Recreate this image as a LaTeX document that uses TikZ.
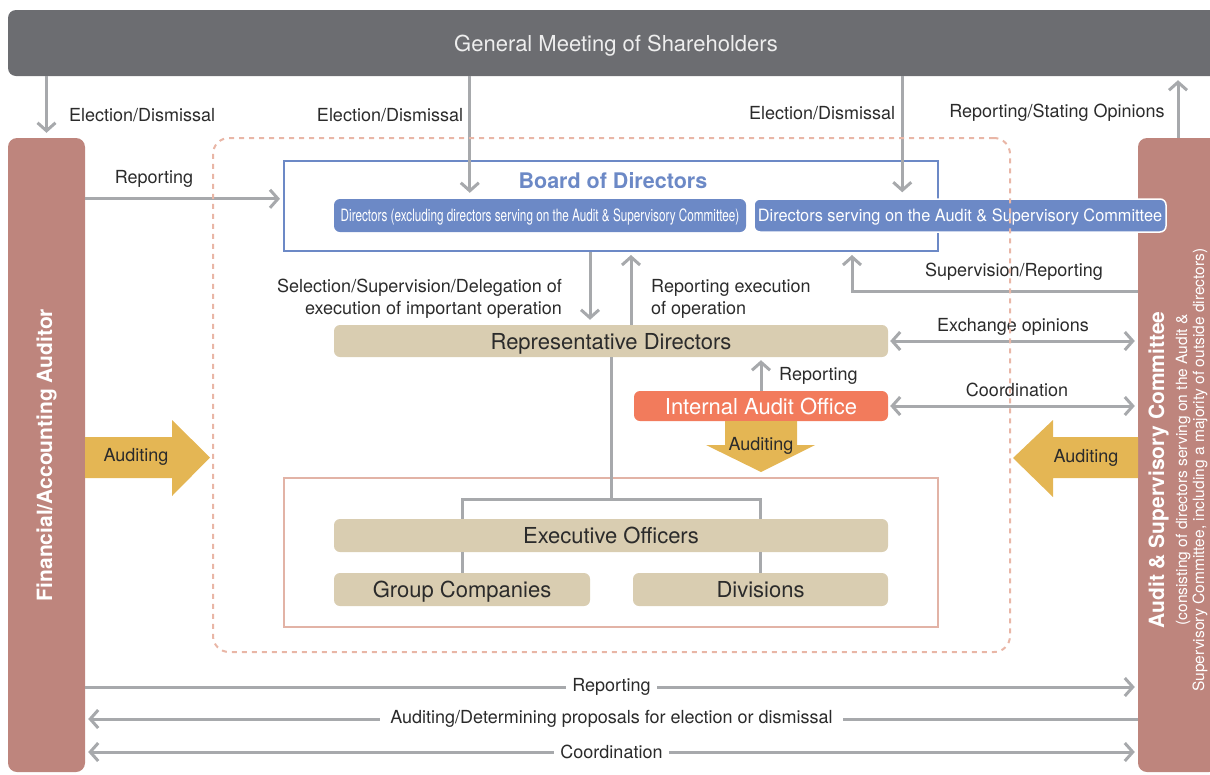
\documentclass[tikz,border=0pt]{standalone}
\usepackage{fontspec}
\setmainfont{TeX Gyre Heros}
\usepackage{graphicx}
\usepackage{tikz}
\usetikzlibrary{arrows.meta}

\begin{document}
\begin{tikzpicture}[x=1pt, y=-1pt,
  arr/.style={draw=lineGray, line width=3pt, -{Straight Barb[length=8pt,width=18pt]}},
  biarr/.style={draw=lineGray, line width=3pt, {Straight Barb[length=8pt,width=18pt]}-{Straight Barb[length=8pt,width=18pt]}},
  link/.style={draw=lineGray, line width=3pt},
  lbl/.style={font=\fontsize{18}{22}\selectfont, text=txtDark, inner sep=1pt},
  pill/.style={rounded corners=6pt, inner sep=0pt, text height=16pt, text depth=0pt, font=\fontsize{22}{25}\selectfont},
  beige/.style={pill, fill=colBeige, text=txtDark},
  blu/.style={pill, fill=colBlue, text=white, text height=12.5pt, minimum width=412, minimum height=33},
  colonna/.style={fill=colCol, rounded corners=9pt, minimum height=634},
  audit/.style={fill=colAud}
]

% Colori
\definecolor{colGM}{HTML}{6C6D71}
\definecolor{gmText}{HTML}{EEEEEE}
\definecolor{colCol}{HTML}{BE857D}
\definecolor{colBlue}{HTML}{6C89C6}
\definecolor{colBeige}{HTML}{D9CDB1}
\definecolor{colCoral}{HTML}{F27B5C}
\definecolor{colAud}{HTML}{E4B654}
\definecolor{lineGray}{HTML}{A7A9AC}
\definecolor{colDash}{HTML}{E9B6A6}
\definecolor{colExec}{HTML}{E2B3A6}
\definecolor{txtDark}{HTML}{2B2B2B}

\useasboundingbox (0,0) rectangle (1210,774);

% Assemblea
\node[pill, fill=colGM, text=gmText, minimum width=1216, minimum height=66, rounded corners=8pt] (gm) at (616,43) {General Meeting of Shareholders};

% Colonne laterali
\node[colonna, minimum width=77] (fin) at (46.5,455) {};
\node[colonna, minimum width=80] (asc) at (1178,455) {};
\node[rotate=90, text=white, font=\fontsize{21}{24}\selectfont\bfseries] (finT) at (fin.center) {Financial/Accounting Auditor};
\node[rotate=90, text=white, align=center, font=\fontsize{15.5}{17}\selectfont] (ascT) at (1178,470)
  {{\fontsize{21}{24}\selectfont\bfseries Audit \& Supervisory Committee}\\[6pt](consisting of directors serving on the Audit \&\\Supervisory Committee, including a majority of outside directors)};

% Consiglio
\node[draw=colBlue, line width=2pt, minimum width=654, minimum height=90] (board) at (611,206) {};
\node[text=colBlue, font=\fontsize{21.5}{25}\selectfont\bfseries] (boardT) at (613,181) {Board of Directors};
\node[blu] (dirEx) at (540,215.5) {\fontsize{17}{20}\selectfont\scalebox{0.69}[1]{Directors (excluding directors serving on the Audit \& Supervisory Committee)}};
\node[blu, draw=white, line width=1.5pt] (dirAsc) at (960,215.5) {\fontsize{17}{20}\selectfont\scalebox{0.96}[1]{Directors serving on the Audit \& Supervisory Committee}};

% Direzione
\node[beige, minimum width=554, minimum height=32] (rep) at (611,341) {Representative Directors};
\node[pill, fill=colCoral, text=white, minimum width=254, minimum height=30] (iao) at (761,406) {Internal Audit Office};
\node[draw=colExec, line width=2pt, minimum width=654, minimum height=149] (execArea) at (611,552.5) {};
\node[beige, minimum width=554, minimum height=33] (exec) at (611,535.5) {Executive Officers};
\node[beige, minimum width=256, minimum height=33] (grp) at (462,589.5) {Group Companies};
\node[beige, minimum width=255, minimum height=33] (div) at (760.5,589.5) {Divisions};

% Frecce di auditing
\path[audit] (85,437) -- (172,437) -- (172,420) -- (210,457.5) -- (172,496) -- (172,478) -- (85,478) -- cycle;
\path[audit] (1138,437) -- (1053,437) -- (1053,420) -- (1013,458) -- (1053,497) -- (1053,478) -- (1138,478) -- cycle;
\path[audit] (725,421) -- (797,421) -- (797,445) -- (815,445) -- (761,472) -- (706,445) -- (725,445) -- cycle;
\node[lbl] (audL) at (136,457) {Auditing};
\node[lbl] (audR) at (1086,458) {Auditing};
\node[lbl] (audI) at (761,446) {Auditing};

% Elezione/revoca
\coordinate (e1) at ([xshift=136pt]dirEx.north west);
\coordinate (e2) at ([xshift=149pt]dirAsc.north west);
\draw[arr, shorten >=5pt] (fin.north |- gm.south) -- (fin.north);
\draw[arr, shorten >=6pt] (e1 |- gm.south) -- (e1);
\draw[arr, shorten >=6pt] (e2 |- gm.south) -- (e2);
\draw[arr, shorten >=4pt] (asc.north) -- (asc.north |- gm.south);
\node[lbl, anchor=west] (le1) at (68,115) {Election/Dismissal};
\node[lbl] (le2) at (390,115) {Election/Dismissal};
\node[lbl] (le3) at (822,113) {Election/Dismissal};
\node[lbl] (lso) at (1057,113) {Reporting/Stating Opinions};

% Rapporti col consiglio
\draw[arr, shorten >=3pt] (dirEx.north -| fin.east) -- (dirEx.north -| board.west);
\node[lbl] (lrep) at (154,179) {Reporting};
\coordinate (rd) at ([xshift=-21pt]rep.north);
\coordinate (ru) at ([xshift=20pt]rep.north);
\draw[arr, shorten >=5pt] (rd |- board.south) -- (rd);
\draw[arr, shorten >=3pt] (ru) -- (ru |- board.south);
\node[lbl, anchor=east, align=right] (lsel) at (563,299) {Selection/Supervision/Delegation of\\execution of important operation};
\node[lbl, anchor=west, align=left] (lexe) at (650,299) {Reporting execution\\of operation};
\coordinate (sv) at (852,291);
\draw[arr, shorten >=3pt] (asc.west |- sv) -- (sv) -- (sv |- board.south);
\node[lbl] (lsup) at (1014,272) {Supervision/Reporting};

% Comitato
\draw[biarr, shorten <=2pt, shorten >=3pt] (rep.east) -- (asc.west |- rep.east);
\draw[biarr, shorten <=2pt, shorten >=3pt] (iao.east) -- (asc.west |- iao.east);
\draw[arr, shorten >=3pt] (iao.north) -- (rep.south -| iao.north);
\node[lbl] (lexc) at (1013,327) {Exchange opinions};
\node[lbl] (lcoo) at (1017,390) {Coordination};
\node[lbl, anchor=west] (liao) at (778,376) {Reporting};

% Albero esecutivo
\coordinate (br) at ([yshift=19pt]exec.north);
\draw[link] (rep.south) -- (rep.south |- br);
\draw[link] (grp.north |- exec.north) -- (grp.north |- br) -- (div.north |- br) -- (div.north |- exec.north);
\draw[link] (grp.north |- exec.south) -- (grp.north);
\draw[link] (div.north |- exec.south) -- (div.north);

% Area tratteggiata
\node[draw=colDash, dash pattern=on 5pt off 5pt, line width=2pt, rounded corners=16pt, minimum width=797, minimum height=514] (area) at (611.5,395) {};

% In basso
\coordinate (b1) at (0,687);
\coordinate (b2) at (0,719);
\coordinate (b3) at (0,752);
\draw[arr, shorten >=3pt] (fin.east |- b1) -- (asc.west |- b1) node[lbl, midway, fill=white, inner xsep=6pt] (lb1) {Reporting};
\draw[arr, shorten >=3pt] (asc.west |- b2) -- (fin.east |- b2) node[lbl, midway, fill=white, inner xsep=10pt] (lb2) {Auditing/Determining proposals for election or dismissal};
\draw[biarr, shorten <=3pt, shorten >=3pt] (fin.east |- b3) -- (asc.west |- b3) node[lbl, midway, fill=white, inner xsep=6pt] (lb3) {Coordination};

\end{tikzpicture}
\end{document}
